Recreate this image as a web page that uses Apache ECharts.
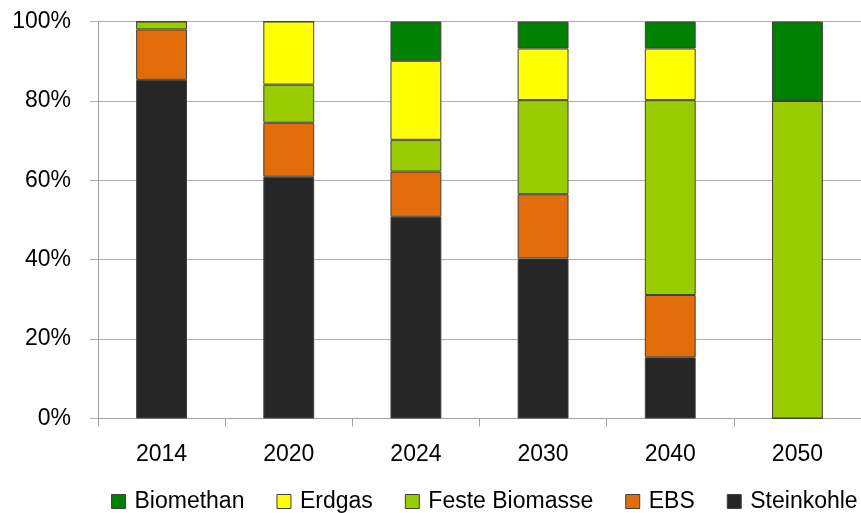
<!DOCTYPE html>
<html>
<head>
<meta charset="utf-8">
<script src="https://cdn.jsdelivr.net/npm/echarts@6/dist/echarts.min.js"></script>
<style>
html,body{margin:0;padding:0;background:#fff;}
#chart{width:861px;height:513px;}
</style>
</head>
<body>
<div id="chart"></div>
<script>
const categories = ['2014', '2020', '2024', '2030', '2040', '2050'];
const steinkohle = [85.3, 60.9, 50.8, 40.3, 15.4, 0];
const ebs = [12.7, 13.6, 11.4, 16.2, 15.7, 0];
const festeBiomasse = [2.0, 9.6, 8.0, 23.7, 49.1, 80];
const erdgas = [0, 15.9, 19.9, 13.0, 13.0, 0];
const biomethan = [0, 0, 9.9, 6.8, 6.8, 20];
const legendOrder = ['Biomethan', 'Erdgas', 'Feste Biomasse', 'EBS', 'Steinkohle'];

const FONT = '"Liberation Sans", Arial, sans-serif';
const chart = echarts.init(document.getElementById('chart'), null, {renderer: 'canvas'});

function bar(name, data, color) {
  return {
    name: name,
    type: 'bar',
    stack: 'total',
    data: data,
    barWidth: '40%',
    itemStyle: {color: color, borderColor: '#404040', borderWidth: 1},
    emphasis: {disabled: true}
  };
}

chart.setOption({
  animation: false,
  backgroundColor: '#ffffff',
  grid: {left: 98, width: 770, top: 21.5, height: 397},
  legend: {
    data: legendOrder,
    orient: 'horizontal',
    left: 106,
    top: 485,
    width: 900,
    itemWidth: 14,
    itemHeight: 14,
    itemGap: 32,
    icon: 'rect',
    itemStyle: {borderColor: '#404040', borderWidth: 1},
    textStyle: {fontFamily: FONT, fontSize: 23, color: '#000', padding: [0, 0, 0, 4]}
  },
  xAxis: {
    type: 'category',
    data: categories,
    axisLine: {show: true, lineStyle: {color: '#a0a0a0', width: 1}},
    axisTick: {show: true, length: 8, lineStyle: {color: '#a0a0a0'}},
    axisLabel: {fontFamily: FONT, fontSize: 23, color: '#000', margin: 25}
  },
  yAxis: {
    type: 'value',
    min: 0,
    max: 100,
    interval: 20,
    axisLine: {show: true, lineStyle: {color: '#a0a0a0', width: 1}},
    axisTick: {show: true, length: 8, lineStyle: {color: '#b0b0b0'}},
    splitLine: {show: true, lineStyle: {color: '#b0b0b0', width: 1}},
    axisLabel: {fontFamily: FONT, fontSize: 23, color: '#000', margin: 27, formatter: '{value}%'}
  },
  series: [
    bar('Steinkohle', steinkohle, '#262626'),
    bar('EBS', ebs, '#E36C0A'),
    bar('Feste Biomasse', festeBiomasse, '#99CC00'),
    bar('Erdgas', erdgas, '#FFFF00'),
    bar('Biomethan', biomethan, '#008000')
  ]
});
</script>
</body>
</html>
